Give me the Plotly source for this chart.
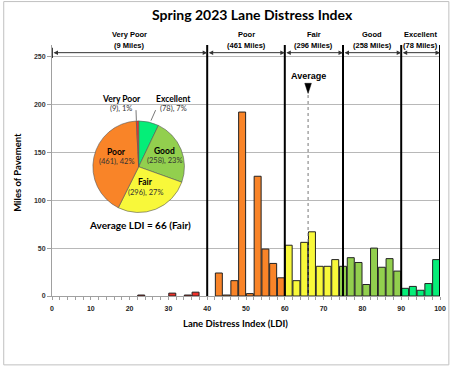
import plotly.graph_objects as go

# ---------------- data ----------------
ldi_bins = [23, 31, 35, 37, 43, 45, 47, 49, 51, 53, 55, 57, 59, 61, 63, 65, 67, 69,
            71, 73, 75, 77, 79, 81, 83, 85, 87, 89, 91, 93, 95, 97, 99]
miles = [1, 3, 1, 4, 24, 1, 16, 192, 2.5, 125, 49, 34, 19, 53, 16, 56, 67, 31,
         31, 38, 31, 40, 35, 12, 50, 30, 39, 26, 8, 10, 6, 13, 38]

cat_names = ["Very Poor", "Poor", "Fair", "Good", "Excellent"]
cat_bounds = [0, 40, 60, 75, 90, 100]
cat_miles = [9, 461, 296, 258, 78]
cat_colors = ["#f0302a", "#f98428", "#f8f83a", "#92cf4e", "#05ee78"]

avg_ldi = 66
x_ticks = [0, 10, 20, 30, 40, 50, 60, 70, 80, 90, 100]
y_ticks = [0, 50, 100, 150, 200, 250]

# ---------------- helpers ----------------
def cat_index(v):
    for i in range(len(cat_names)):
        if v < cat_bounds[i + 1]:
            return i
    return len(cat_names) - 1

bar_colors = [cat_colors[cat_index(c)] for c in ldi_bins]

fig = go.Figure()
fig.add_trace(go.Bar(
    x=ldi_bins, y=miles, width=1.8,
    marker=dict(color=bar_colors, line=dict(color="#222222", width=1)),
    hoverinfo="x+y", showlegend=False,
))

# pie (clockwise from 12 o'clock: Excellent, Good, Fair, Poor, Very Poor)
pie_order = [4, 3, 2, 1, 0]
total = sum(cat_miles)
fig.add_trace(go.Pie(
    labels=[cat_names[i] for i in pie_order],
    values=[cat_miles[i] for i in pie_order],
    marker=dict(colors=[cat_colors[i] for i in pie_order],
                line=dict(color="#555555", width=0.6)),
    sort=False, direction="clockwise", rotation=0,
    textinfo="none", hoverinfo="label+value+percent",
    domain=dict(x=[0.1054, 0.3414], y=[0.33, 0.70]),
    showlegend=False,
))

YMAX = 262
shapes = []
annotations = []


def note(**kw):
    kw.setdefault("showarrow", False)
    kw.setdefault("xanchor", "center")
    kw.setdefault("yanchor", "middle")
    annotations.append(kw)


# category boundary lines
for b in cat_bounds[1:]:
    shapes.append(dict(type="line", xref="x", yref="y", x0=b, x1=b, y0=0, y1=YMAX,
                       line=dict(color="black", width=2)))
shapes.append(dict(type="line", xref="x", yref="y", x0=0, x1=0, y0=248.5, y1=259,
                   line=dict(color="black", width=1.5)))

# range arrows and headers
ARROW_Y = 254
for i, name in enumerate(cat_names):
    x0, x1 = cat_bounds[i], cat_bounds[i + 1]
    annotations.append(dict(x=x1, y=ARROW_Y, ax=x0, ay=ARROW_Y, xref="x", yref="y",
                            axref="x", ayref="y", text="", showarrow=True,
                            arrowhead=2, startarrowhead=2, arrowside="end+start",
                            arrowsize=0.9, startarrowsize=0.9, arrowwidth=1,
                            arrowcolor="#333333"))
    xm = (x0 + x1) / 2
    note(x=xm, y=1.043, xref="x", yref="paper", text=name,
         font=dict(family="Liberation Sans", size=7.5, color="black", weight="bold"))
    note(x=xm, y=0.999, xref="x", yref="paper", text=f"({cat_miles[i]} Miles)",
         font=dict(family="Liberation Sans", size=7.5, color="black", weight="bold"))

# average marker
shapes.append(dict(type="line", xref="x", yref="y", x0=avg_ldi, x1=avg_ldi, y0=0, y1=212,
                   line=dict(color="#777777", width=1, dash="dot")))
shapes.append(dict(type="path", xref="x", yref="y",
                   path=f"M {avg_ldi-0.85},222 L {avg_ldi+0.85},222 L {avg_ldi},211.5 Z",
                   fillcolor="black", line=dict(color="black", width=0.5)))
note(x=avg_ldi, y=230, xref="x", yref="y", text="Average",
     font=dict(family="Liberation Sans", size=9, color="black", weight="bold"))

# pie labels
def pct(m):
    return round(100 * m / total)

pie_lab = {
    "Very Poor": (17.9, 206, 195.5),
    "Excellent": (31.2, 206, 195.5),
    "Poor": (16.6, 150, 140.2),
    "Good": (29.1, 151, 141),
    "Fair": (24.2, 118.8, 108.4),
}
for i, name in enumerate(cat_names):
    x, y1, y2 = pie_lab[name]
    note(x=x, y=y1, xref="x", yref="y", text=name,
         font=dict(family="Lato", size=8.5, color="black", weight="bold"))
    note(x=x, y=y2, xref="x", yref="y",
         text=f"({cat_miles[i]}), {pct(cat_miles[i])}%",
         font=dict(family="Lato", size=7.5, color="#333333"))
# leader lines
shapes.append(dict(type="line", xref="x", yref="y", x0=21.65, x1=21.75, y0=194, y1=183,
                   line=dict(color="#555555", width=0.8)))
shapes.append(dict(type="line", xref="x", yref="y", x0=26.7, x1=25.5, y0=194, y1=183,
                   line=dict(color="#555555", width=0.8)))

note(x=0.226, y=0.282, xref="paper", yref="paper", text="Average LDI = 66 (Fair)",
     font=dict(family="Lato", size=10, color="black", weight="bold"))

# titles
note(x=0.516, y=1.121, xref="paper", yref="paper", text="Spring 2023 Lane Distress Index",
     font=dict(family="Lato", size=14, color="black", weight="bold"))
note(x=0.472, y=-0.111, xref="paper", yref="paper", text="Lane Distress Index (LDI)",
     font=dict(family="Lato", size=9.5, color="black", weight="bold"))
note(x=-0.0888, y=0.493, xref="paper", yref="paper", text="Miles of Pavement",
     textangle=-90,
     font=dict(family="Lato", size=9.5, color="black", weight="bold"))

# outer frame
shapes.append(dict(type="rect", xref="paper", yref="paper", x0=-0.1244, x1=1.0228,
                   y0=-0.2744, y1=1.173, line=dict(color="#c0c0c0", width=1),
                   layer="below"))

fig.update_layout(
    width=457, height=367,
    margin=dict(l=52, r=11, t=44.5, b=71),
    paper_bgcolor="white", plot_bgcolor="white",
    shapes=shapes, annotations=annotations,
    bargap=0.1,
    xaxis=dict(range=[0, 100], tickvals=x_ticks, showgrid=False, zeroline=False,
               showline=True, linecolor="#a0a0a0", linewidth=1,
               ticks="outside", ticklen=3, tickcolor="#a0a0a0", ticklabelstandoff=3,
               minor=dict(dtick=2, ticks="outside", ticklen=3, tickcolor="#a0a0a0"),
               tickfont=dict(family="Liberation Sans", size=7, color="#222222",
                             weight="bold")),
    yaxis=dict(range=[0, YMAX], tickvals=y_ticks, showgrid=True, gridcolor="#b8b8b8",
               gridwidth=1, zeroline=False, showline=True, linecolor="#a0a0a0",
               linewidth=1, ticks="outside", ticklen=4, tickcolor="#a0a0a0",
               tickfont=dict(family="Liberation Sans", size=7, color="#333333",
                             weight="bold")),
)

fig.write_html("out.html", config={"displayModeBar": False},
               post_script="document.body.style.margin='0';")
